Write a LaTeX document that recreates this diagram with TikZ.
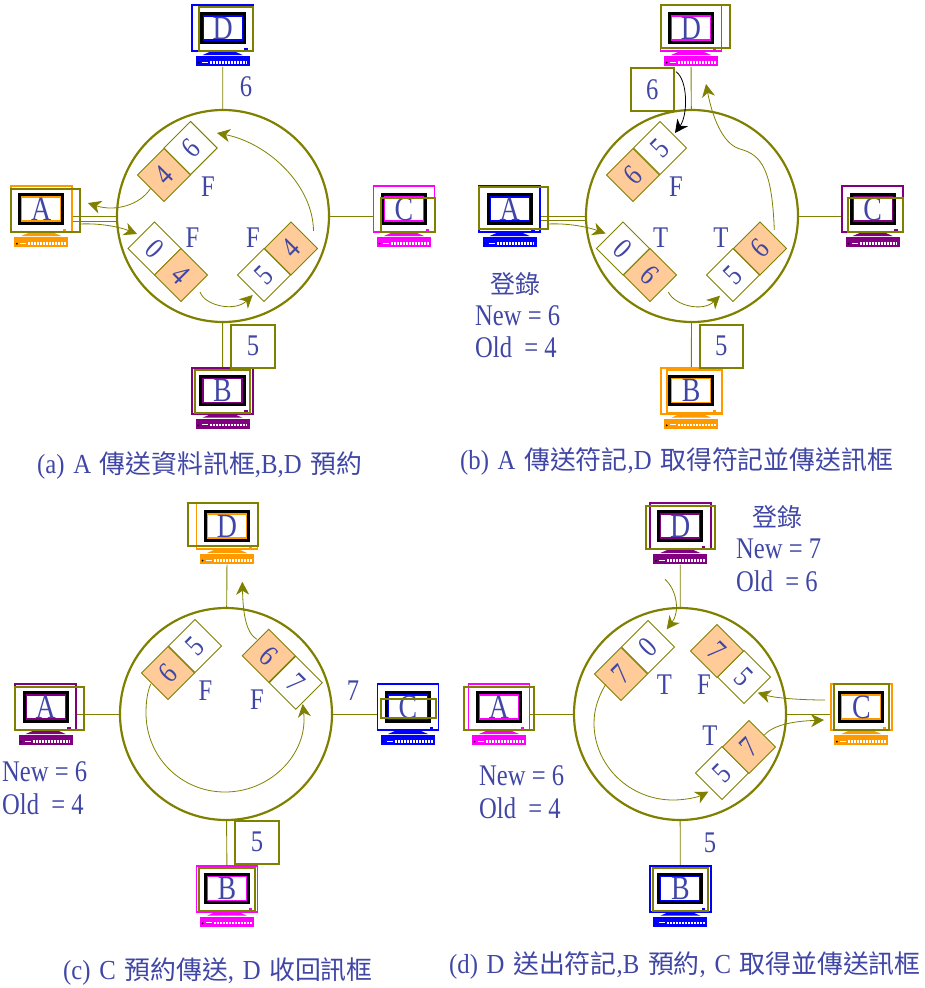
\documentclass[tikz,border=0pt]{standalone}
\usepackage{xcolor}
\usepackage{fontspec}
\usetikzlibrary{arrows.meta}
\setmainfont[FakeStretch=0.82]{Liberation Serif}
\newfontfamily\capfont[FakeStretch=0.9, WordSpace=1.4]{Liberation Serif}
\newfontfamily\cjkfont[Scale=0.94]{Noto Sans CJK TC}
\definecolor{ringOlive}{RGB}{128, 128, 0}
\definecolor{termMagenta}{RGB}{255, 0, 255}
\definecolor{termOrange}{RGB}{255, 153, 0}
\definecolor{termPurple}{RGB}{128, 0, 128}
\definecolor{termBlue}{RGB}{0, 0, 255}
\definecolor{slotPeach}{RGB}{255, 204, 153}
\definecolor{labelBlue}{RGB}{64, 70, 165}

% one station: stand, screen, keyboard; the olive rim is drawn apart
\newcommand{\terminal}[5]{%
    \fill[#4] (#2-12,#3+46.5) -- (#2+12,#3+46.5) -- (#2+20,#3+50) -- (#2-20,#3+50) -- cycle;
    \node[screen, draw=#4] (#1) at (#2,#3+23) {};
    \draw[line width=3.2pt, black] (#2-21.5,#3+9) rectangle (#2+21.5,#3+37);
    \draw[#4, line width=1.2pt] (#2-19.5,#3+11) rectangle (#2+19.5,#3+35);
    \fill[#4] (#2+21.5,#3+42.5) rectangle (#2+25,#3+44.5);
    \node[stationtext] (#1t) at (#2,#3+23) {#5};
    \node[keyboard, fill=#4] (#1k) at (#2,#3+56.2) {};
    \draw[white, line width=2.6pt, dash pattern=on 2pt off 1pt] (#2-13,#3+57.2) -- (#2+24.5,#3+57.2);
    \draw[white, line width=1pt] (#2-21,#3+57.2) -- (#2-15,#3+57.2);
    \fill[black] (#2-24.5,#3+57.7) circle (1pt);
}
% two cells of a frame on the ring
\newcommand{\slotpair}[8]{%
    \node[cell, rotate=#6] (#1w) at (#2,#3) {#7};
    \node[cell, fill=slotPeach, rotate=#6] (#1p) at (#4,#5) {#8};
}

\begin{document}
\begin{tikzpicture}[
        x=1pt, y=-1pt,
        screen/.style={rectangle, line width=1.8pt, minimum width=61pt, minimum height=46pt, inner sep=0pt},
        keyboard/.style={rectangle, minimum width=54pt, minimum height=10.5pt, inner sep=0pt},
        rim/.style={draw=ringOlive, line width=2pt},
        ring/.style={circle, draw=ringOlive, line width=2.2pt, minimum size=212pt, inner sep=0pt},
        link/.style={draw=ringOlive, line width=0.9pt},
        flow/.style={draw=ringOlive, line width=0.8pt, -{Stealth[length=13pt, width=13pt, inset=4pt]}},
        cell/.style={rectangle, draw=ringOlive, line width=0.9pt, minimum size=37.5pt, inner sep=0pt, text=labelBlue, font=\fontsize{30}{30}\selectfont},
        token/.style={rectangle, draw=ringOlive, line width=2pt, minimum width=43.5pt, minimum height=43pt, inner sep=0pt, text=labelBlue, font=\fontsize{30}{30}\selectfont},
        stationtext/.style={inner sep=0pt, text=labelBlue, font=\fontsize{34}{34}\selectfont},
        glyph/.style={inner sep=0pt, text=labelBlue, font=\fontsize{30}{30}\selectfont},
        tablerow/.style={anchor=west, inner sep=0pt, text=labelBlue, font=\fontsize{30}{30}\selectfont},
        caption/.style={anchor=west, inner sep=0pt, text=labelBlue, font=\capfont\fontsize{27.5}{28}\selectfont}
    ]
        \useasboundingbox (0,0) rectangle (924,988);

        % Case a
        \node[ring] (ringa) at (223,216) {};
        \terminal{aD}{222.7}{5}{termBlue}{D}
        \draw[rim] (199,7) rectangle (253,51);
        \terminal{aA}{41.3}{186}{termOrange}{A}
        \draw[rim] (10.7,188.7) rectangle (80,232);
        \terminal{aC}{404}{186}{termMagenta}{C}
        \draw[rim] (380.7,198.3) rectangle (435,232.3);
        \terminal{aB}{222.5}{367.7}{termPurple}{B}
        \draw[rim] (195.3,370.3) rectangle (250,413.3);
        \draw[link] (aDk) -- (ringa);
        \draw[link] (aB) -- (ringa);
        \draw[link] (aC.west |- ringa.east) -- (ringa.east);
        \draw[link] (aA.east |- ringa.west) -- (ringa.west);
        \draw[link] ([yshift=-5pt]aA.east |- ringa.west) -- ([yshift=-5pt]ringa.west);
        \slotpair{aTop}{190.6}{148}{164}{175}{45}{6}{4}
        \slotpair{aLow}{154.5}{248.5}{181}{275}{-45}{0}{4}
        \slotpair{aRgt}{264}{275}{291}{248.5}{45}{5}{4}
        \node[glyph] (aTxt6) at (246,87) {6};
        \node[glyph] (aF1) at (208,187) {F};
        \node[glyph] (aF2) at (192.5,238) {F};
        \node[glyph] (aF3) at (253,238) {F};
        \node[token] (aTok) at (253,346.2) {5};
        \coordinate (aInTip) at (88,203);
        \coordinate (aOut) at (80,224);
        \coordinate (aBtm) at (200,292);
        \coordinate (aUp) at (313.5,231);
        \coordinate (aUpTip) at (217,133);
        \coordinate (aTip) at (252.7,295);
        \coordinate (aLowTip) at (137,234);
        \draw[flow] (aTopp.west) .. controls (140,205) and (115,212) .. (aInTip);
        \draw[flow] (aOut) .. controls (100,223) and (120,227) .. (aLowTip);
        \draw[flow] (aBtm) .. controls (205,306) and (235,312) .. (aTip);
        \draw[flow] (aUp) .. controls (313,185) and (268,143) .. (aUpTip);
        \node[caption] (aCap) at (37,466) {(a) A {\cjkfont 傳送資料訊框},B,D {\cjkfont 預約}};

        % Case b
        \node[ring] (ringb) at (692,216) {};
        \terminal{bD}{691}{5}{termMagenta}{D}
        \draw[rim] (660.7,5) rectangle (730,48.3);
        \terminal{bA}{509.7}{186}{termBlue}{A}
        \draw[rim] (479,186.7) rectangle (548.3,229.3);
        \terminal{bC}{872.7}{186}{termPurple}{C}
        \draw[rim] (848.3,198.3) rectangle (903.3,232.3);
        \terminal{bB}{691.2}{367.7}{termOrange}{B}
        \draw[termOrange, line width=1.8pt] (667.3,370) rectangle (722.3,413.3);
        \draw[link] (bDk) -- (ringb);
        \draw[link] (bB) -- (ringb);
        \draw[link] (bC.west |- ringb.east) -- (ringb.east);
        \draw[link] (bA.east |- ringb.west) -- (ringb.west);
        \draw[link] ([yshift=-4pt]bA.east |- ringb.west) -- ([yshift=-4pt]ringb.west);
        \slotpair{bTop}{660}{148}{633}{175}{45}{5}{6}
        \slotpair{bLow}{623}{248.5}{650}{275}{-45}{0}{6}
        \slotpair{bRgt}{733}{275}{760}{248.5}{45}{5}{6}
        \node[token] (bTok6) at (652.3,89.7) {6};
        \node[token] (bTok5) at (721.3,346.2) {5};
        \node[glyph] (bF1) at (676,187) {F};
        \node[glyph] (bT1) at (660.7,238) {T};
        \node[glyph] (bT2) at (721,238) {T};
        \node[font=\cjkfont\fontsize{26.6}{27}\selectfont, text=labelBlue, inner sep=0pt] (bReg) at (515.7,284) {登錄};
        \node[tablerow] (bNew) at (475,316) {New = 6};
        \node[tablerow] (bOld) at (475,347) {Old\ \ = 4};
        \coordinate (bTokOut) at (676,71.7);
        \coordinate (bTokTip) at (675,133);
        \coordinate (bOut) at (548,224);
        \coordinate (bLowTip) at (605.5,233.5);
        \coordinate (bBtm) at (668.3,292);
        \coordinate (bTip) at (720,295.7);
        \coordinate (bUp) at (774.3,230);
        \coordinate (bUpTip) at (706,84);
        \draw[draw=black, line width=0.8pt, -{Stealth[length=13pt, width=13pt, inset=4pt]}] (bTokOut) .. controls (688,80) and (688,115) .. (bTokTip);
        \draw[flow] (bOut) .. controls (568,223) and (588,227) .. (bLowTip);
        \draw[flow] (bBtm) .. controls (675,306) and (703,312) .. (bTip);
        \draw[flow] (bUp) .. controls (772,170) and (762,155) .. (740,149) .. controls (722,144) and (712,115) .. (bUpTip);
        \node[caption] (bCap) at (460,461) {(b) A {\cjkfont 傳送符記},D {\cjkfont 取得符記並傳送訊框}};

        % Case c
        \node[ring] (ringc) at (226,714) {};
        \terminal{cD}{227}{503}{termOrange}{D}
        \draw[rim] (187.7,503.3) rectangle (257.7,546);
        \terminal{cA}{45.7}{684}{termPurple}{A}
        \draw[rim] (15,687.3) rectangle (84.3,730);
        \terminal{cC}{408}{684}{termBlue}{C}
        \draw[rim] (381,699.3) rectangle (435.7,718.3);
        \terminal{cB}{227}{865.7}{termMagenta}{B}
        \draw[rim] (199.3,868.3) rectangle (255,911);
        \draw[link] (cDk) -- (ringc);
        \draw[link] (cB) -- (ringc);
        \draw[link] (cC.west |- ringc.east) -- (ringc.east);
        \draw[link] (cA.east |- ringc.west) -- (ringc.west);
        \slotpair{cTop}{195}{646}{168}{673}{45}{5}{6}
        \slotpair{cRgt}{295.7}{682.7}{268.7}{655.7}{-45}{7}{6}
        \node[token] (cTok) at (257,842) {5};
        \node[glyph] (cF1) at (205.5,691) {F};
        \node[glyph] (cF2) at (257,700) {F};
        \node[glyph] (cTxt7) at (353,691) {7};
        \node[tablerow] (cNew) at (2,772) {New = 6};
        \node[tablerow] (cOld) at (2,804) {Old\ \ = 4};
        \coordinate (cStart) at (150.7,684);
        \coordinate (cTip) at (302.7,704);
        \coordinate (cUp) at (256.7,639.3);
        \coordinate (cUpTip) at (242.3,581.7);
        \draw[flow] (cStart) .. controls (147,693) and (146,703) .. (146,713) .. controls (146,757) and (181,792) .. (225,792) .. controls (269,792) and (304,757) .. (304,720) .. controls (304,715) and (303.5,710) .. (cTip);
        \draw[flow] (cUp) .. controls (245,632) and (243,610) .. (cUpTip);
        \node[caption] (cCap) at (63,972) {(c) C {\cjkfont 預約傳送}, D {\cjkfont 收回訊框}};

        % Case d
        \node[ring] (ringd) at (680,714) {};
        \terminal{dD}{680.3}{503}{termPurple}{D}
        \draw[rim] (645.7,506) rectangle (715,549);
        \terminal{dA}{499}{684}{termMagenta}{A}
        \draw[rim] (464.3,687) rectangle (533.7,730);
        \terminal{dC}{861.3}{684}{termOrange}{C}
        \draw[rim] (834.3,684.3) rectangle (888.7,730);
        \terminal{dB}{680.3}{865.7}{termBlue}{B}
        \draw[rim] (652.7,868.3) rectangle (707.7,911);
        \draw[link] (dDk) -- (ringd);
        \draw[link] (dB) -- (ringd);
        \draw[link] (dC.west |- ringd.east) -- (ringd.east);
        \draw[link] (dA.east |- ringd.west) -- (ringd.west);
        \slotpair{dTop}{648}{647}{621}{674}{45}{0}{7}
        \slotpair{dRgt}{744}{677}{717}{651}{-45}{5}{7}
        \slotpair{dLow}{722}{773}{749}{747}{45}{5}{7}
        \node[glyph] (dT1) at (664.5,685) {T};
        \node[glyph] (dF1) at (704,685) {F};
        \node[glyph] (dT2) at (710,735.5) {T};
        \node[glyph] (dTxt5) at (710,843) {5};
        \node[font=\cjkfont\fontsize{26.6}{27}\selectfont, text=labelBlue, inner sep=0pt] (dReg) at (777,517) {登錄};
        \node[tablerow] (dNew) at (736,549) {New = 7};
        \node[tablerow] (dOld) at (736,581) {Old\ \ = 6};
        \node[tablerow] (dNewA) at (479,776) {New = 6};
        \node[tablerow] (dOldA) at (479,808) {Old\ \ = 4};
        \coordinate (dIn) at (665,579.3);
        \coordinate (dInTip) at (666.7,629.3);
        \coordinate (dStart) at (605.7,684.3);
        \coordinate (dTip) at (708.3,791.7);
        \coordinate (dCIn) at (825,700);
        \coordinate (dCTip) at (757.7,692.7);
        \coordinate (dOut) at (764.3,735);
        \coordinate (dOutTip) at (824,720);
        \draw[flow] (dIn) .. controls (677,590) and (680,612) .. (dInTip);
        \draw[flow] (dStart) .. controls (598,697) and (594,710) .. (594,723) .. controls (594,766) and (630,800) .. (673,800) .. controls (686,800) and (698,797) .. (dTip);
        \draw[flow] (dCIn) .. controls (800,700) and (775,698) .. (dCTip);
        \draw[flow] (dOut) .. controls (775,723) and (800,721) .. (dOutTip);
        \node[caption] (dCap) at (449,965) {(d) D {\cjkfont 送出符記},B {\cjkfont 預約}, C {\cjkfont 取得並傳送訊框}};
    \end{tikzpicture}
\end{document}
